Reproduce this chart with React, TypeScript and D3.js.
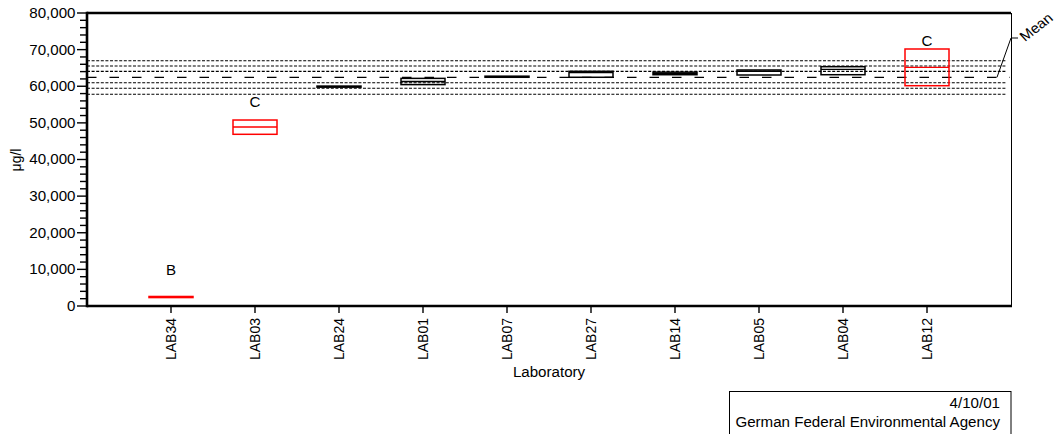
import React from 'react';
import * as d3 from 'd3';

// ---- data ----
const labs = ['LAB34', 'LAB03', 'LAB24', 'LAB01', 'LAB07', 'LAB27', 'LAB14', 'LAB05', 'LAB04', 'LAB12'];
const lowValues = [2300, 46880, 59750, 60450, 62450, 62450, 63150, 63070, 63150, 60150];
const highValues = [2600, 50780, 60050, 62150, 62750, 64080, 63850, 64440, 65340, 70170];
const medianValues = [2450, 48870, 59900, 61300, 62600, 63700, 63500, 64100, 64620, 65170];
const flags = ['B', 'C', '', '', '', '', '', '', '', 'C'];
const flagValues = [8460, 54420, 0, 0, 0, 0, 0, 0, 0, 70990];
const meanValue = 62450;
const limitValues = [57800, 59450, 60970, 64050, 65520, 66980];
const yTickValues = [0, 10000, 20000, 30000, 40000, 50000, 60000, 70000, 80000];
const yMinorStep = 2000;
const dateText = '4/10/01';
const agencyText = 'German Federal Environmental Agency';

const W = 1062;
const H = 434;
const left = 87;
const right = 1011;
const top = 13;
const bottom = 306;
const FONT = '"Liberation Sans", Arial, Helvetica, sans-serif';
const SX = 1.08;

function T(props: {
  x: number; y: number; anchor?: string; rotate?: number; size?: number; children: React.ReactNode; dy?: string;
}) {
  const { x, y, anchor = 'start', rotate = 0, size = 14, children, dy } = props;
  return (
    <text
      transform={`translate(${x},${y}) scale(${SX},1) rotate(${rotate})`}
      textAnchor={anchor}
      fontFamily={FONT}
      fontSize={size}
      fill="#000"
      dy={dy}
    >
      {children}
    </text>
  );
}

export default function App() {
  const x = d3.scalePoint<string>().domain(labs).range([left, right]).padding(1);
  const y = d3.scaleLinear().domain([0, 80000]).range([bottom, top]);
  const fmt = d3.format(',');
  const minorTicks = d3.range(0, 80001, yMinorStep).filter((v) => !yTickValues.includes(v));
  const half = 22;
  const lineEnd = 1007;

  return (
    <svg width={W} height={H} style={{ position: 'absolute', left: 0, top: 0, background: '#fff' }}>
      <rect x={0} y={0} width={W} height={H} fill="#fff" />

      {/* limit lines */}
      {limitValues.map((v, i) => (
        <line key={'lim' + i} x1={left} x2={lineEnd} y1={y(v)} y2={y(v)} stroke="#000" strokeWidth={1.1} strokeDasharray="3,1.6" />
      ))}
      <line x1={left} x2={1010} y1={y(meanValue)} y2={y(meanValue)} stroke="#000" strokeWidth={1.3} strokeDasharray="9.5,13" />

      {/* boxes */}
      {labs.map((lab, i) => {
        const cx = x(lab) as number;
        const col = flags[i] ? '#ff0000' : '#000';
        const y1 = y(highValues[i]);
        const y2 = y(lowValues[i]);
        return (
          <g key={lab}>
            <rect x={cx - half} y={y1} width={half * 2} height={y2 - y1} fill="none" stroke={col} strokeWidth={1.5} />
            <line x1={cx - half} x2={cx + half} y1={y(medianValues[i])} y2={y(medianValues[i])} stroke={col} strokeWidth={1.3} />
            {flags[i] ? (
              <T x={cx} y={y(flagValues[i])} anchor="middle">{flags[i]}</T>
            ) : null}
          </g>
        );
      })}

      {/* frame */}
      <line x1={left} x2={right} y1={top} y2={top} stroke="#000" strokeWidth={2.6} />
      <line x1={right + 0.5} x2={right + 0.5} y1={top} y2={bottom} stroke="#000" strokeWidth={1} />
      <line x1={left} x2={right + 1} y1={bottom} y2={bottom} stroke="#000" strokeWidth={2.6} />
      <line x1={left} x2={left} y1={top - 1.3} y2={bottom + 1.3} stroke="#000" strokeWidth={2.6} />

      {/* y axis */}
      {yTickValues.map((v) => (
        <g key={'yt' + v}>
          <line x1={77} x2={left} y1={y(v)} y2={y(v)} stroke="#000" strokeWidth={1.4} />
          <T x={75.5} y={y(v)} anchor="end" dy="0.35em">{fmt(v)}</T>
        </g>
      ))}
      {minorTicks.map((v) => (
        <line key={'ym' + v} x1={80} x2={left} y1={y(v)} y2={y(v)} stroke="#000" strokeWidth={1.4} />
      ))}
      <T x={21} y={160} anchor="middle" rotate={-90}>μg/l</T>

      {/* x axis */}
      {labs.map((lab) => {
        const cx = x(lab) as number;
        return (
          <g key={'xt' + lab}>
            <line x1={cx} x2={cx} y1={bottom} y2={313} stroke="#000" strokeWidth={1.4} />
            <T x={cx} y={318} anchor="end" rotate={-90} dy="0.35em">{lab}</T>
          </g>
        );
      })}
      <T x={(left + right) / 2} y={377} anchor="middle">Laboratory</T>

      {/* mean label */}
      <polyline points={`997,${y(meanValue)} 1011,38 1018,38`} fill="none" stroke="#000" strokeWidth={1} />
      <T x={1025} y={42} rotate={-40} size={14}>Mean</T>

      {/* footer box */}
      <rect x={729.5} y={391.5} width={281.5} height={60} fill="none" stroke="#000" strokeWidth={1} />
      <T x={1000} y={408} anchor="end">{dateText}</T>
      <T x={1000} y={427} anchor="end">{agencyText}</T>
    </svg>
  );
}
